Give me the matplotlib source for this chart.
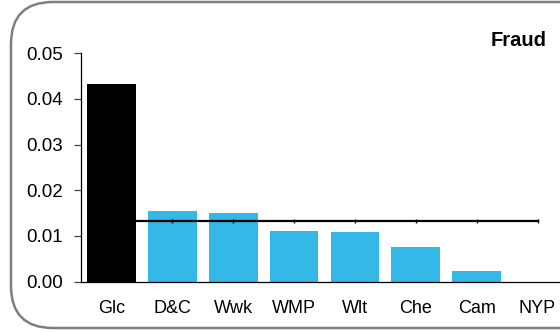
import matplotlib
matplotlib.use("Agg")
import matplotlib.pyplot as plt
from matplotlib.patches import FancyBboxPatch

categories = ["Glc", "D&C", "Wwk", "WMP", "Wlt", "Che", "Cam", "NYP"]
values = [0.0432, 0.0155, 0.0150, 0.0111, 0.0108, 0.0076, 0.0023, 0.0]
bar_colors = ["#000000"] + ["#33B8E8"] * 7
mean_line = [0.0133] * 8
yticks = [0.00, 0.01, 0.02, 0.03, 0.04, 0.05]
title = "Fraud"

plt.rcParams['font.family'] = ['Liberation Sans', 'DejaVu Sans']

fig = plt.figure(figsize=(5.6, 3.33), dpi=100)
fig.patch.set_facecolor("white")

# rounded border
border = FancyBboxPatch((11/560, 5/333), 600/560, 326/333,
                        boxstyle="round,pad=0,rounding_size=0.075",
                        transform=fig.transFigure, fill=False,
                        edgecolor="#7f7f7f", linewidth=1.8, clip_on=False,
                        mutation_aspect=560/333)
fig.patches.append(border)

ax = fig.add_axes([81/560, (333-281.7)/333, 487/560, (281.7-53.2)/333])
x = list(range(len(categories)))
ax.bar(x, values, width=0.8, color=bar_colors, zorder=2)
ax.plot(x, mean_line, color="black", linewidth=1.6, marker="|",
        markersize=3, markeredgewidth=1, zorder=3)

ax.set_xlim(-0.5, len(categories) - 0.5)
ax.set_ylim(0, 0.05)
ax.set_yticks(yticks)
ax.set_yticklabels([f"{v:.2f}" for v in yticks])
ax.set_xticks(x)
ax.set_xticklabels(categories)

ax.spines["top"].set_visible(False)
ax.spines["right"].set_visible(False)
ax.spines["left"].set_linewidth(0.9)
ax.spines["bottom"].set_linewidth(0.9)
ax.tick_params(axis="y", length=5, width=0.9, color="#444444",
               labelsize=13.5, pad=8)
ax.tick_params(axis="x", length=0, labelsize=13, pad=13)
ax.set_facecolor("none")

fig.text(547/560, 1 - 41/333, title, ha="right", va="center",
         fontsize=14.5, fontweight="bold")

fig.savefig("out.png", dpi=100)
